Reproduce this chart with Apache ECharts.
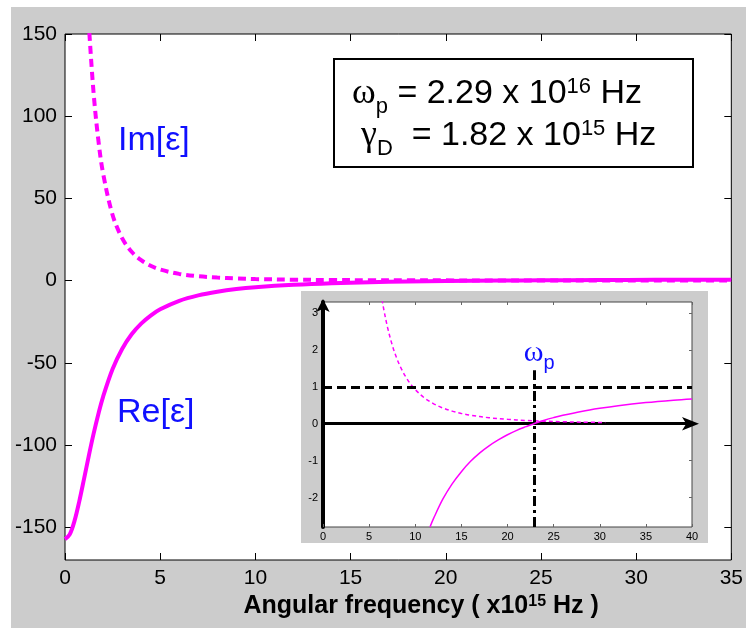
<!DOCTYPE html>
<html>
<head>
<meta charset="utf-8">
<script src="https://cdn.jsdelivr.net/npm/echarts@6/dist/echarts.min.js"></script>
<style>
  html, body { margin: 0; padding: 0; background: #fff; }
  #main { width: 746px; height: 628px; }
</style>
</head>
<body>
<div id="main"></div>
<script>
// main plot: Drude permittivity, x in units of 1e15 Hz
var wMain = [0, 0.25, 0.5, 0.75, 1, 1.25, 1.5, 1.75, 2, 2.5, 3, 3.5, 4, 4.5, 5, 6, 7, 8, 9, 10, 12, 14, 16, 18, 20, 22.9, 25, 28, 31, 35];
var reMain = [-157.3, -154.4, -146.2, -134.3, -120.6, -106.6, -93.3, -81.3, -70.7, -53.8, -41.6, -32.7, -26.2, -21.3, -17.5, -12.3, -9.0, -6.8, -5.2, -4.1, -2.6, -1.6, -1.0, -0.6, -0.3, 0.0, 0.17, 0.33, 0.46, 0.57];
var wIm = [1.28, 1.5, 1.75, 2, 2.5, 3, 3.5, 4, 4.5, 5, 6, 7, 8, 9, 10, 12, 14, 16, 18, 20, 22.9, 25, 28, 31, 35];
var imMain = [150.6, 114.4, 85.6, 65.3, 39.9, 25.8, 17.5, 12.4, 9.0, 6.7, 4.05, 2.6, 1.8, 1.3, 0.92, 0.54, 0.34, 0.23, 0.16, 0.12, 0.08, 0.06, 0.04, 0.03, 0.02];

// inset (zoom near the plasma frequency)
var wInRe = [11.6, 12, 13, 14, 15, 16, 17, 18, 19, 20, 21, 22, 23, 24, 25, 26, 28, 30, 32, 35, 38, 40];
var reInset = [-2.8, -2.56, -2.04, -1.63, -1.3, -1.02, -0.79, -0.6, -0.44, -0.3, -0.18, -0.08, 0.015, 0.095, 0.165, 0.228, 0.334, 0.419, 0.49, 0.573, 0.638, 0.673];
var wInIm = [6.4, 6.6, 7, 7.5, 8, 8.5, 9, 9.5, 10, 11, 12, 13, 14, 15, 16, 18, 20, 22, 24, 26, 28, 30.6];
var imInset = [3.37, 3.085, 2.61, 2.137, 1.77, 1.486, 1.26, 1.074, 0.924, 0.698, 0.54, 0.426, 0.342, 0.279, 0.23, 0.162, 0.118, 0.089, 0.069, 0.054, 0.043, 0.033];

var yMainTicks = [-150, -100, -50, 0, 50, 100, 150];
var yInsetTicks = [-2, -1, 0, 1, 2, 3];
var wPlasma = 22.9;

function pairs(xs, ys) {
  return xs.map(function (x, i) { return [x, ys[i]]; });
}

var FONT = 'Liberation Sans, Arial, sans-serif';
var MAGENTA = '#ff00ff';
var BLUE = '#1010ff';
var GRAY = '#cccccc';

var myChart = echarts.init(document.getElementById('main'), null, { renderer: 'canvas' });

var boxRich = {
  w: { fontFamily: 'Liberation Serif, serif', fontSize: 36, fill: '#000' },
  a: { fontFamily: FONT, fontSize: 34, fill: '#000' },
  sub: { fontFamily: FONT, fontSize: 22, fill: '#000', verticalAlign: 'bottom', padding: [0, 0, -6, 0] },
  sup: { fontFamily: FONT, fontSize: 22, fill: '#000', verticalAlign: 'top' }
};

var option = {
  backgroundColor: '#ffffff',
  animation: false,
  grid: [
    { left: 65, top: 34, right: 13, bottom: 68, show: true, backgroundColor: '#fff', borderColor: '#000', borderWidth: 1, z: 0 },
    { left: 323, top: 302, right: 54, bottom: 101, show: true, backgroundColor: '#fff', borderColor: '#444', borderWidth: 1, z: 2 }
  ],
  xAxis: [
    {
      type: 'value', gridIndex: 0, min: 0, max: 35, interval: 5, position: 'bottom',
      axisLine: { show: false, onZero: false },
      axisTick: { inside: true, length: 7, lineStyle: { color: '#000' } },
      axisLabel: { fontFamily: FONT, fontSize: 21, color: '#000', margin: 8 },
      splitLine: { show: false },
      name: '{b|Angular frequency ( x10}{s|15}{b| Hz )}',
      nameLocation: 'middle', nameGap: 33,
      nameTextStyle: {
        padding: [0, 0, 0, 46],
        rich: {
          b: { fontFamily: FONT, fontSize: 25, fontWeight: 'bold', color: '#000' },
          s: { fontFamily: FONT, fontSize: 16, fontWeight: 'bold', color: '#000', verticalAlign: 'top' }
        }
      }
    },
    {
      type: 'value', gridIndex: 0, min: 0, max: 35, interval: 5, position: 'top',
      axisLine: { show: false, onZero: false },
      axisTick: { inside: true, length: 7, lineStyle: { color: '#000' } },
      axisLabel: { show: false }, splitLine: { show: false }
    },
    {
      type: 'value', gridIndex: 1, min: 0, max: 40, interval: 5, position: 'bottom', z: 3,
      axisLine: { show: false, onZero: false },
      axisTick: { inside: true, length: 3, lineStyle: { color: '#666' } },
      axisLabel: { fontFamily: FONT, fontSize: 11, color: '#000', margin: 4 },
      splitLine: { show: false }
    },
    {
      // thick zero line with arrow
      type: 'value', gridIndex: 1, min: 0, max: 40, position: 'top', z: 3,
      axisLine: {
        show: true, onZero: true,
        symbol: ['none', 'arrow'], symbolSize: [10, 17], symbolOffset: [0, 7],
        lineStyle: { color: '#000', width: 3 }
      },
      axisTick: { show: false }, axisLabel: { show: false }, splitLine: { show: false }
    },
    {
      type: 'value', gridIndex: 1, min: 0, max: 40, interval: 5, position: 'top', z: 3,
      axisLine: { show: false, onZero: false },
      axisTick: { inside: true, length: 3, lineStyle: { color: '#666' } },
      axisLabel: { show: false }, splitLine: { show: false }
    }
  ],
  yAxis: [
    {
      type: 'value', gridIndex: 0, min: -170, max: 150, position: 'left',
      axisLine: { show: false, onZero: false },
      axisTick: { inside: true, length: 7, customValues: yMainTicks, lineStyle: { color: '#000' } },
      axisLabel: { fontFamily: FONT, fontSize: 21, color: '#000', margin: 8, customValues: yMainTicks },
      splitLine: { show: false }
    },
    {
      type: 'value', gridIndex: 0, min: -170, max: 150, position: 'right',
      axisLine: { show: false, onZero: false },
      axisTick: { inside: true, length: 7, customValues: yMainTicks, lineStyle: { color: '#000' } },
      axisLabel: { show: false }, splitLine: { show: false }
    },
    {
      type: 'value', gridIndex: 1, min: -2.8, max: 3.3, position: 'left', z: 3,
      axisLine: {
        show: true, onZero: false,
        symbol: ['none', 'arrow'], symbolSize: [10, 13], symbolOffset: [0, 3],
        lineStyle: { color: '#000', width: 4 }
      },
      axisTick: { show: false, customValues: yInsetTicks },
      axisLabel: { fontFamily: FONT, fontSize: 11, color: '#000', margin: 5, customValues: yInsetTicks },
      splitLine: { show: false }
    },
    {
      type: 'value', gridIndex: 1, min: -2.8, max: 3.3, position: 'right', z: 3,
      axisLine: { show: false, onZero: false },
      axisTick: { inside: true, length: 3, customValues: yInsetTicks, lineStyle: { color: '#666' } },
      axisLabel: { show: false }, splitLine: { show: false }
    }
  ],
  series: [
    {
      name: 'Re main', type: 'line', xAxisIndex: 0, yAxisIndex: 0,
      data: pairs(wMain, reMain), smooth: 0.35, showSymbol: false,
      lineStyle: { color: MAGENTA, width: 4 }, z: 3
    },
    {
      name: 'Im main', type: 'line', xAxisIndex: 0, yAxisIndex: 0,
      data: pairs(wIm, imMain), smooth: 0.35, showSymbol: false,
      lineStyle: { color: MAGENTA, width: 4, type: [8, 5] }, z: 3
    },
    {
      name: 'Re inset', type: 'line', xAxisIndex: 2, yAxisIndex: 2,
      data: pairs(wInRe, reInset), smooth: 0.35, showSymbol: false,
      lineStyle: { color: MAGENTA, width: 1.5 }, z: 4,
      markLine: {
        silent: true, symbol: ['none', 'none'], animation: false,
        data: [
          {
            yAxis: 1,
            lineStyle: { color: '#000', width: 3, type: [9, 5] },
            label: { show: false }
          },
          [
            { coord: [wPlasma, -2.8] },
            {
              coord: [wPlasma, 1.45],
              lineStyle: { color: '#000', width: 3, type: [10, 4, 3, 4] }
            }
          ]
        ],
        lineStyle: { color: '#000', width: 3, type: [10, 4, 3, 4] },
        label: {
          show: true, position: 'end', distance: 2, offset: [5, 0],
          formatter: '{w|ω}{p|p}',
          rich: {
            w: { fontFamily: 'Liberation Serif, serif', fontSize: 30, color: BLUE },
            p: { fontFamily: FONT, fontSize: 20, color: BLUE, verticalAlign: 'bottom', padding: [0, 0, -5, 0] }
          }
        }
      }
    },
    {
      name: 'Im inset', type: 'line', xAxisIndex: 2, yAxisIndex: 2,
      data: pairs(wInIm, imInset), smooth: 0.35, showSymbol: false,
      lineStyle: { color: MAGENTA, width: 1.5, type: [4, 3] }, z: 4
    }
  ],
  graphic: [
    { type: 'rect', silent: true, z: -100, shape: { x: 11, y: 7, width: 735, height: 621 }, style: { fill: GRAY } },
    { type: 'rect', silent: true, z: 1, shape: { x: 301, y: 291, width: 407, height: 252 }, style: { fill: GRAY } },
    {
      type: 'rect', silent: true, z: 5, shape: { x: 334, y: 59, width: 359, height: 108 },
      style: { fill: '#fff', stroke: '#000', lineWidth: 2 }
    },
    {
      type: 'text', silent: true, z: 6, x: 352, y: 94,
      style: { text: '{w|ω}{sub|p}{a| = 2.29 x 10}{sup|16}{a| Hz}', verticalAlign: 'middle', rich: boxRich }
    },
    {
      type: 'text', silent: true, z: 6, x: 361, y: 136,
      style: { text: '{w|γ}{sub|D}{a|  = 1.82 x 10}{sup|15}{a| Hz}', verticalAlign: 'middle', rich: boxRich }
    },
    {
      type: 'text', silent: true, z: 6, x: 118, y: 124,
      style: { text: 'Im[ε]', fontFamily: FONT, fontSize: 34, fill: BLUE }
    },
    {
      type: 'text', silent: true, z: 6, x: 117, y: 396,
      style: { text: 'Re[ε]', fontFamily: FONT, fontSize: 34, fill: BLUE }
    }
  ]
};

myChart.setOption(option);
</script>
</body>
</html>
